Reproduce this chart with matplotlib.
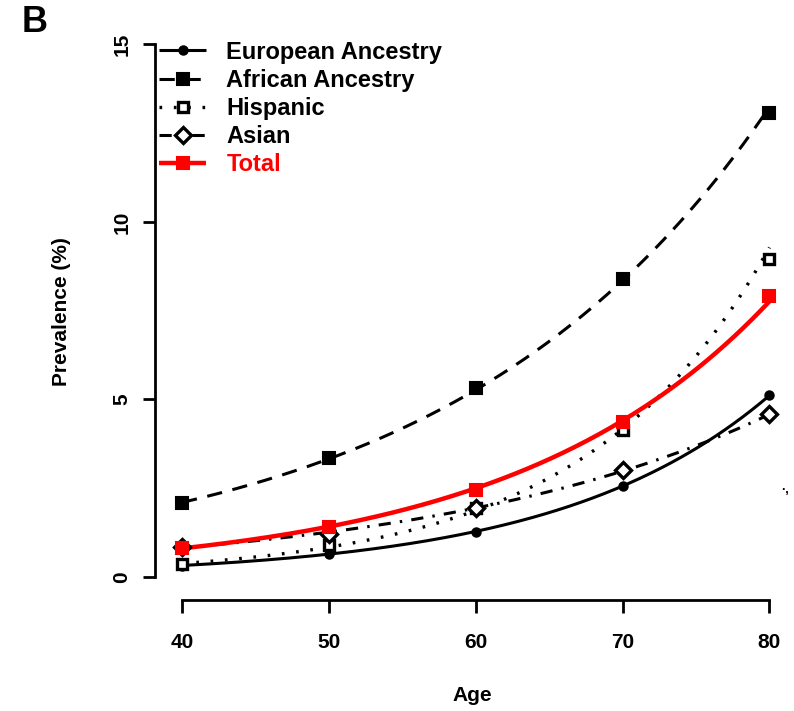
import numpy as np
import matplotlib
matplotlib.use("Agg")
import matplotlib.pyplot as plt

plt.rcParams['font.family'] = ['Liberation Sans', 'DejaVu Sans']
plt.rcParams['font.weight'] = 'bold'

ages = [40, 50, 60, 70, 80]
european = [0.32, 0.65, 1.27, 2.55, 5.13]
african = [2.07, 3.35, 5.33, 8.4, 13.07]
hispanic = [0.35, 0.9, 1.95, 4.15, 8.95]
asian = [0.85, 1.2, 1.95, 3.0, 4.6]
total = [0.82, 1.4, 2.45, 4.37, 7.9]

names = ["European Ancestry", "African Ancestry", "Hispanic", "Asian", "Total"]
series = [european, african, hispanic, asian, total]

fig = plt.figure(figsize=(7.94, 7.11), dpi=100)
ax = fig.add_axes([155/794, 111/711, 635/794, 577/711])

styles = [
    dict(color='black', ls='-', lw=2.2, marker='o', ms=6, mfc='black', mew=1.5),
    dict(color='black', ls=(0, (5, 3.5)), lw=2.2, marker='s', ms=8, mfc='black', mew=1.5),
    dict(color='black', ls=(0, (0.8, 3.5)), lw=2.4, marker='s', ms=7.5, mfc='white', mew=2.4),
    dict(color='black', ls=(0, (4, 3, 0.8, 3)), lw=2.2, marker='D', ms=8, mfc='white', mew=2.4),
    dict(color='red', ls='-', lw=3.2, marker='s', ms=8, mfc='red', mew=1.5),
]

xs = np.linspace(40, 80, 200)
handles = []
for vals, st in zip(series, styles):
    b, a = np.polyfit(ages, np.log(vals), 1)
    ln, = ax.plot(xs, np.exp(a + b * xs), color=st['color'], ls=st['ls'],
                  lw=st['lw'], solid_capstyle='butt', dash_capstyle='butt')
    pt, = ax.plot(ages, vals, ls='none', marker=st['marker'], ms=st['ms'],
                  mfc=st['mfc'], mec=st['color'], mew=st['mew'], zorder=3)
    handles.append((ln, pt))

ax.set_xlim(38.16, 81.4)
ax.set_ylim(-0.65, 15.6)

for s in ['top', 'right']:
    ax.spines[s].set_visible(False)
ax.spines['left'].set_bounds(0, 15)
ax.spines['bottom'].set_bounds(40, 80)
for s in ['left', 'bottom']:
    ax.spines[s].set_linewidth(2)

ax.set_xticks(ages)
ax.set_yticks([0, 5, 10, 15])
ax.tick_params(direction='out', length=9, width=2, labelsize=15, pad=8)
ax.tick_params(axis='x', pad=15)
for lab in ax.get_yticklabels():
    lab.set_rotation(90)
    lab.set_va('center')

ax.set_xlabel("Age", fontsize=15, fontweight='bold', labelpad=24)
ax.set_ylabel("Prevalence (%)", fontsize=15, fontweight='bold', labelpad=30)

leg = ax.legend(handles, names, loc='upper left', bbox_to_anchor=(-0.012, 0.99),
                frameon=False, fontsize=17, handlelength=2.0, labelspacing=0.22,
                handletextpad=0.85, borderaxespad=0.3, borderpad=0.2)
leg.get_texts()[-1].set_color('red')

fig.text(22/794, 1 - 22/711, "B", fontsize=26, fontweight='bold',
         ha='left', va='center')
fig.text(785/794, 1 - 490/711, "·,", fontsize=9, ha='center', va='center')

fig.savefig("out.png", dpi=100)
